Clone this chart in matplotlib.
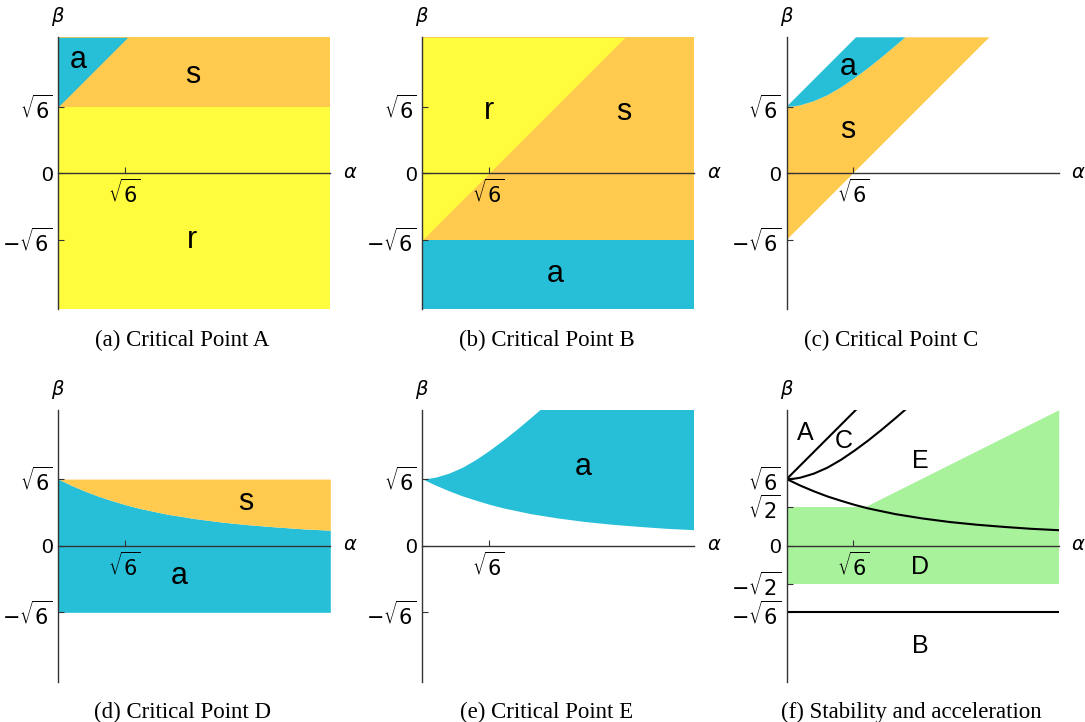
import numpy as np
import matplotlib
matplotlib.use("Agg")
import matplotlib.pyplot as plt

plt.rcParams['font.family'] = ['Liberation Sans', 'DejaVu Sans']
plt.rcParams['mathtext.fontset'] = 'dejavusans'

# colours
CYAN = '#27bfd8'
ORANGE = '#ffca4e'
YELLOW = '#fffc3d'
GREEN = '#a7f29b'

SQ6 = np.sqrt(6)
SQ2 = np.sqrt(2)
A_LIM = (0, 10)
B_LIM = (-5, 5)

# boundary curve of point D (attractor / saddle)
alpha_d = [0, 0.25, 0.5, 1, 1.5, 2, 2.5, 3, 4, 5, 6, 7, 8, 9, 10]
beta_d = [2.45, 2.33, 2.21, 2.00, 1.81, 1.65, 1.50, 1.37, 1.16, 1.00, 0.87, 0.77, 0.69, 0.62, 0.57]

# boundary curve between C and E
alpha_c = [0, 0.25, 0.5, 1, 1.5, 2, 2.5, 3, 3.5, 4, 4.36]
beta_c = [2.45, 2.46, 2.50, 2.65, 2.87, 3.16, 3.50, 3.87, 4.27, 4.69, 5.0]

# straight boundaries
line_a_alpha = [0, 2.55]      # beta = alpha + sqrt6
line_a_beta = [2.45, 5.0]
line_b_alpha = [0, 7.45]      # beta = alpha - sqrt6
line_b_beta = [-2.45, 5.0]
line_e_alpha = [2.83, 10]     # acceleration edge
line_e_beta = [1.41, 5.0]

captions = ["(a) Critical Point A", "(b) Critical Point B", "(c) Critical Point C",
            "(d) Critical Point D", "(e) Critical Point E", "(f) Stability and acceleration"]
caption_x = [182, 547, 891, 183, 547, 911]
caption_y = [340, 340, 340, 712, 712, 712]

W, H = 1085, 722
fig = plt.figure(figsize=(W / 100, H / 100), dpi=100)

spine_x = [58.3, 422.3, 786.7]
zero_y = [173.3, 545.7]
scale = 27.2

LOW = 22   # size of the a / s / r letters
UP = 18    # size of the A..E letters


def make_axes(col, row, yticks, ylabels):
    left = (spine_x[col]) / W
    bottom = 1 - (zero_y[row] + 5 * scale) / H
    ax = fig.add_axes([left, bottom, 10 * scale / W, 10 * scale / H])
    ax.set_xlim(A_LIM)
    ax.set_ylim(B_LIM)
    for s in ['top', 'right']:
        ax.spines[s].set_visible(False)
    ax.spines['bottom'].set_position(('data', 0))
    for s in ['left', 'bottom']:
        ax.spines[s].set_color('#333333')
        ax.spines[s].set_linewidth(1.0)
        ax.spines[s].set_zorder(5)
    ax.set_xticks([SQ6])
    ax.set_xticklabels([r'$\sqrt{6}$'])
    ax.set_yticks(yticks)
    ax.set_yticklabels(ylabels)
    ax.tick_params(direction='in', length=4, width=0.8, color='#333333', labelsize=15, pad=4)
    ax.patch.set_alpha(0)
    ax.text(0, 5.75, r'$\beta$', ha='center', va='center', fontsize=14, clip_on=False)
    ax.text(10.45, 0, r'$\alpha$', ha='left', va='center', fontsize=14, clip_on=False)
    return ax


std_ticks = [-SQ6, 0, SQ6]
std_labels = [r'$-\sqrt{6}$', '0', r'$\sqrt{6}$']

ad = np.array(alpha_d)
bd = np.array(beta_d)
ac = np.array(alpha_c)
bc = np.array(beta_c)

# (a)
ax = make_axes(0, 0, std_ticks, std_labels)
ax.fill_between(A_LIM, B_LIM[0], SQ6, color=YELLOW, lw=0)
ax.fill_between(A_LIM, SQ6, B_LIM[1], color=ORANGE, lw=0)
ax.fill_between(line_a_alpha, line_a_beta, B_LIM[1], color=CYAN, lw=0)
ax.text(0.75, 4.15, 'a', fontsize=LOW, ha='center', va='center')
ax.text(4.95, 3.6, 's', fontsize=LOW, ha='center', va='center')
ax.text(4.9, -2.45, 'r', fontsize=LOW, ha='center', va='center')

# (b)
ax = make_axes(1, 0, std_ticks, std_labels)
ax.fill_between(A_LIM, B_LIM[0], -SQ6, color=CYAN, lw=0)
ax.fill_between(A_LIM, -SQ6, B_LIM[1], color=ORANGE, lw=0)
ax.fill_between(line_b_alpha, line_b_beta, B_LIM[1], color=YELLOW, lw=0)
ax.text(2.47, 2.3, 'r', fontsize=LOW, ha='center', va='center')
ax.text(7.4, 2.25, 's', fontsize=LOW, ha='center', va='center')
ax.text(4.9, -3.7, 'a', fontsize=LOW, ha='center', va='center')

# (c)
ax = make_axes(2, 0, std_ticks, std_labels)
px = np.concatenate([[0], ac, line_b_alpha[::-1]])
py = np.concatenate([[-SQ6], bc, line_b_beta[::-1]])
ax.fill(px, py, color=ORANGE, lw=0)
px = np.concatenate([line_a_alpha, ac[::-1]])
py = np.concatenate([line_a_beta, bc[::-1]])
ax.fill(px, py, color=CYAN, lw=0)
ax.text(2.25, 3.9, 'a', fontsize=LOW, ha='center', va='center')
ax.text(2.25, 1.6, 's', fontsize=LOW, ha='center', va='center')

# (d)
ax = make_axes(0, 1, std_ticks, std_labels)
ax.fill_between(ad, -SQ6, bd, color=CYAN, lw=0)
ax.fill_between(ad, bd, SQ6, color=ORANGE, lw=0)
ax.text(6.9, 1.6, 's', fontsize=LOW, ha='center', va='center')
ax.text(4.45, -1.13, 'a', fontsize=LOW, ha='center', va='center')

# (e)
ax = make_axes(1, 1, std_ticks, std_labels)
px = np.concatenate([ac, [A_LIM[1]], ad[::-1]])
py = np.concatenate([bc, [B_LIM[1]], bd[::-1]])
ax.fill(px, py, color=CYAN, lw=0)
ax.text(5.9, 2.9, 'a', fontsize=LOW, ha='center', va='center')

# (f)
f_ticks = [-SQ6, -SQ2, 0, SQ2, SQ6]
f_labels = [r'$-\sqrt{6}$', r'$-\sqrt{2}$', '0', r'$\sqrt{2}$', r'$\sqrt{6}$']
ax = make_axes(2, 1, f_ticks, f_labels)
ax.fill_between(A_LIM, -SQ2, SQ2, color=GREEN, lw=0)
ax.fill_between(line_e_alpha, SQ2, line_e_beta, color=GREEN, lw=0)
ax.plot(line_a_alpha, line_a_beta, color='black', lw=1.5, zorder=4)
ax.plot(ac, bc, color='black', lw=1.5, zorder=4)
ax.plot(ad, bd, color='black', lw=1.5, zorder=4)
ax.plot(A_LIM, [-SQ6, -SQ6], color='black', lw=1.5, zorder=4)
ax.text(0.67, 4.15, 'A', fontsize=UP, ha='center', va='center')
ax.text(2.1, 3.85, 'C', fontsize=UP, ha='center', va='center')
ax.text(4.9, 3.1, 'E', fontsize=UP, ha='center', va='center')
ax.text(4.9, -0.8, 'D', fontsize=UP, ha='center', va='center')
ax.text(4.9, -3.7, 'B', fontsize=UP, ha='center', va='center')

for cap, cx, cy in zip(captions, caption_x, caption_y):
    fig.text(cx / W, 1 - cy / H, cap, ha='center', va='center',
             fontsize=16.5, family='Liberation Serif')

fig.savefig('out.png', dpi=100)
